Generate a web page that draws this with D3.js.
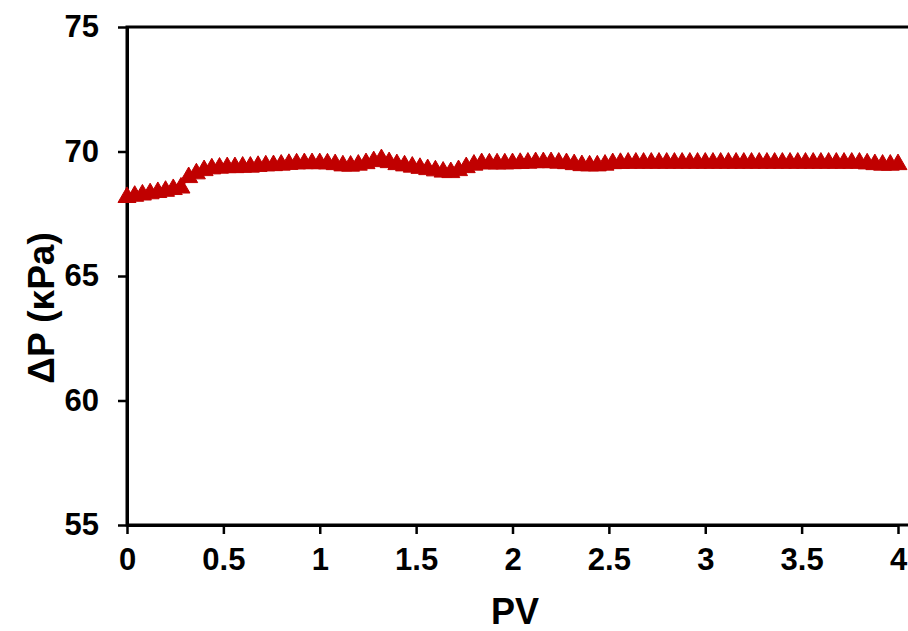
<!DOCTYPE html>
<html>
<head>
<meta charset="utf-8">
<script src="https://cdn.jsdelivr.net/npm/d3@7"></script>
<style>
  body { margin: 0; background: #fff; }
  svg { display: block; font-family: "Liberation Sans", Arial, sans-serif; }
</style>
</head>
<body>
<div id="chart"></div>
<script>
const width = 908, height = 631;

// PV values (every 0.04 PV)
const pvStep = 0.04;
const pressureDrop = [
  68.16, 68.21, 68.26, 68.31, 68.36, 68.41, 68.48, 68.54,
  68.96, 69.11, 69.24, 69.31,
  69.34, 69.36, 69.36, 69.38, 69.38,
  69.41, 69.43, 69.44, 69.46,
  69.49, 69.51, 69.52, 69.52, 69.52, 69.51, 69.48,
  69.43, 69.42, 69.46, 69.52, 69.60, 69.68,
  69.56, 69.48, 69.43, 69.38, 69.33, 69.28, 69.23, 69.18, 69.16,
  69.24, 69.36, 69.46, 69.52,
  69.51, 69.51, 69.51, 69.52, 69.53,
  69.54, 69.56, 69.56, 69.56, 69.54, 69.52,
  69.48, 69.44, 69.43, 69.43, 69.46,
  69.52, 69.53, 69.54, 69.54, 69.54, 69.54, 69.54, 69.54, 69.54, 69.54, 69.54,
  69.54, 69.54, 69.54, 69.54, 69.54, 69.54, 69.54, 69.54, 69.54, 69.54, 69.54,
  69.54, 69.54, 69.54, 69.54, 69.54, 69.54, 69.54, 69.54, 69.54, 69.54, 69.54,
  69.51, 69.48, 69.46, 69.46, 69.48
];
const data = pressureDrop.map((v, i) => ({ pv: i * pvStep, dp: v }));

const xTicks = [0, 0.5, 1, 1.5, 2, 2.5, 3, 3.5, 4];
const yTicks = [55, 60, 65, 70, 75];

const markerColor = "#C00000";

const svg = d3.select("#chart")
              .append("svg")
              .attr("width", width)
              .attr("height", height);

const xScale = d3.scaleLinear().domain([0, 4]).range([127, 898]);
const yScale = d3.scaleLinear().domain([55, 75]).range([525, 27]);

// plot frame (right edge runs off the picture)
svg.append("rect")
   .attr("x", 127)
   .attr("y", 27)
   .attr("width", 800)
   .attr("height", 498)
   .attr("fill", "none")
   .attr("stroke", "#000")
   .attr("stroke-width", 3);

const xAxis = svg.append("g")
                 .attr("transform", `translate(0, 525)`)
                 .call(d3.axisBottom(xScale)
                         .tickValues(xTicks)
                         .tickFormat(d3.format("~g"))
                         .tickSize(9)
                         .tickSizeOuter(0)
                         .tickPadding(14));

const yAxis = svg.append("g")
                 .attr("transform", `translate(127, 0)`)
                 .call(d3.axisLeft(yScale)
                         .tickValues(yTicks)
                         .tickSize(9)
                         .tickSizeOuter(0)
                         .tickPadding(19));

[xAxis, yAxis].forEach(ax => {
  ax.select(".domain").attr("stroke-width", 3);
  ax.selectAll(".tick line").attr("stroke-width", 2.5);
  ax.selectAll(".tick text")
    .attr("fill", "#000")
    .style("font-size", "31px")
    .style("font-weight", "bold")
    .style("font-family", "'Liberation Sans', Arial, sans-serif");
});

// line + triangle markers
svg.append("path")
   .datum(data)
   .attr("fill", "none")
   .attr("stroke", markerColor)
   .attr("stroke-width", 2)
   .attr("d", d3.line().x(d => xScale(d.pv)).y(d => yScale(d.dp)));

svg.append("g")
   .selectAll("path")
   .data(data)
   .join("path")
   .attr("transform", d => `translate(${xScale(d.pv)}, ${yScale(d.dp)})`)
   .attr("d", d3.symbol(d3.symbolTriangle, 140))
   .attr("fill", markerColor)
   .attr("stroke", markerColor)
   .attr("stroke-width", 1);

// axis titles
svg.append("text")
   .attr("x", 515)
   .attr("y", 624)
   .attr("text-anchor", "middle")
   .style("font-size", "36px")
   .style("font-weight", "bold")
   .text("PV");

svg.append("text")
   .attr("transform", "translate(54, 308) rotate(-90)")
   .attr("text-anchor", "middle")
   .style("font-size", "37px")
   .style("font-weight", "bold")
   .text("ΔP (κPa)");
</script>
</body>
</html>
